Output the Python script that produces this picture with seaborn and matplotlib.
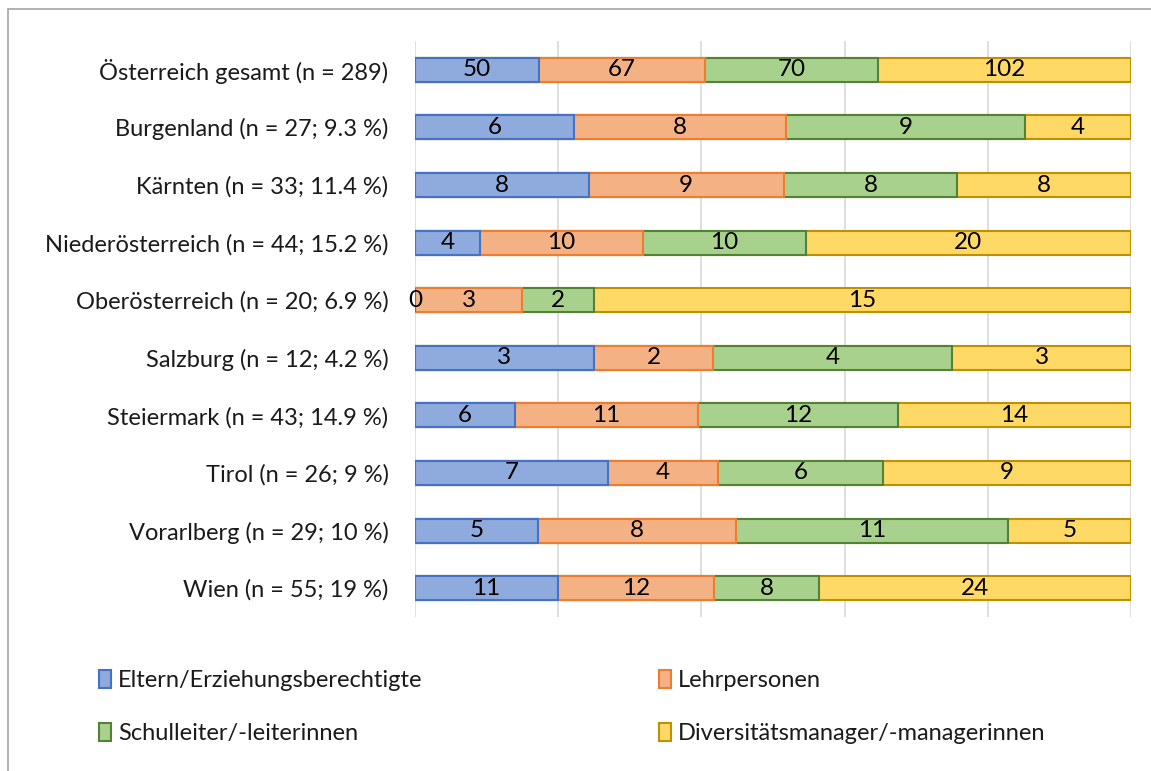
import numpy as np
import pandas as pd
import seaborn as sns
import matplotlib.pyplot as plt
from matplotlib.patches import Patch, Rectangle

# Data
regions = [
    "Österreich gesamt (n = 289)",
    "Burgenland (n = 27; 9.3 %)",
    "Kärnten (n = 33; 11.4 %)",
    "Niederösterreich (n = 44; 15.2 %)",
    "Oberösterreich (n = 20; 6.9 %)",
    "Salzburg (n = 12; 4.2 %)",
    "Steiermark (n = 43; 14.9 %)",
    "Tirol (n = 26; 9 %)",
    "Vorarlberg (n = 29; 10 %)",
    "Wien (n = 55; 19 %)",
]
groups = [
    "Eltern/Erziehungsberechtigte",
    "Lehrpersonen",
    "Schulleiter/-leiterinnen",
    "Diversitätsmanager/-managerinnen",
]
eltern = [50, 6, 8, 4, 0, 3, 6, 7, 5, 11]
lehrer = [67, 8, 9, 10, 3, 2, 11, 4, 8, 12]
schulleiter = [70, 9, 8, 10, 2, 4, 12, 6, 11, 8]
diversitaet = [102, 4, 8, 20, 15, 3, 14, 9, 5, 24]

fills = ["#8FAADC", "#F4B183", "#A9D18E", "#FFD966"]
edges = ["#4472C4", "#ED7D31", "#548235", "#BF9000"]

counts = np.array([eltern, lehrer, schulleiter, diversitaet], dtype=float)
pct = counts / counts.sum(axis=0) * 100
cum = pct.cumsum(axis=0)

sns.set_theme(style="white")
plt.rcParams["font.family"] = ["Lato", "DejaVu Sans"]
fs = 17

fig = plt.figure(figsize=(11.51, 7.71), dpi=100)
ax = fig.add_axes([415 / 1151, 1 - 617 / 771, 716 / 1151, 576 / 771])

# outer chart frame
fig.patches.append(Rectangle((8 / 1151, -0.1), 1.2, 1 - 9 / 771 + 0.1,
                             transform=fig.transFigure, fill=False,
                             edgecolor="#A6A6A6", linewidth=1.2))

for x in [0, 20, 40, 60, 80, 100]:
    ax.axvline(x, color="#D9D9D9", linewidth=1.2, zorder=0)

# stacked bars: draw cumulative widths from widest to narrowest
for i in range(3, -1, -1):
    df = pd.DataFrame({"region": regions, "cum": cum[i]})
    sns.barplot(data=df, x="cum", y="region", orient="h", color=fills[i],
                saturation=1, width=0.42, edgecolor=edges[i], linewidth=1.5,
                ax=ax, zorder=2 + (3 - i))

for i in range(4):
    start = cum[i] - pct[i]
    for j in range(len(regions)):
        ax.text(start[j] + pct[i][j] / 2, j, f"{int(counts[i][j])}",
                ha="center", va="center", fontsize=17.5, color="black", zorder=10)

ax.set_xlim(0, 100)
ax.set_ylim(9.5, -0.5)
ax.set_xlabel("")
ax.set_ylabel("")
ax.set_xticks([])
ax.tick_params(axis="y", length=0, pad=19, labelsize=fs, labelcolor="#1a1a1a")
sns.despine(ax=ax, left=True, bottom=True)

# legend filled column-wise, so order handles to read row by row
order = [0, 2, 1, 3]
handles = [Patch(facecolor=fills[i], edgecolor=edges[i], linewidth=1.5) for i in order]
fig.legend(handles, [groups[i] for i in order], ncol=2, loc="upper left",
           bbox_to_anchor=(78 / 1151, 1 - 649 / 771), frameon=False,
           fontsize=fs, labelcolor="#1a1a1a", handlelength=0.5, handleheight=0.75,
           handletextpad=0.3, columnspacing=10.0, labelspacing=1.35)

fig.savefig("out.png", dpi=100)
